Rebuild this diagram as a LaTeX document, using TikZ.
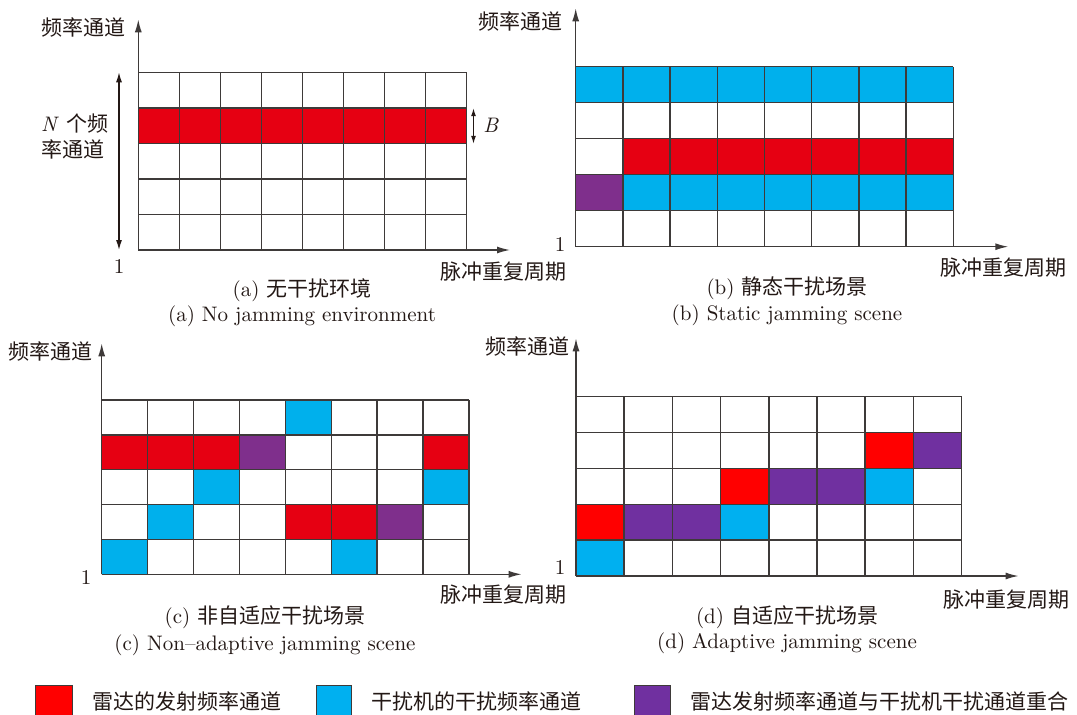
\documentclass[tikz,border=0pt]{standalone}
\usepackage{fontspec}
\setmainfont{lmroman10-regular.otf}[ItalicFont=lmroman10-italic.otf]
\newfontfamily\cjk{Noto Sans CJK SC}
\usetikzlibrary{arrows.meta}

% cell colours: panels (a)-(c) and the brighter set of panel (d) and the key
\definecolor{radar}{HTML}{E60012}
\definecolor{jam}{HTML}{00B0EC}
\definecolor{both}{HTML}{7F2F8C}
\definecolor{radarB}{HTML}{FF0000}
\definecolor{jamB}{HTML}{00B0F0}
\definecolor{bothB}{HTML}{7030A0}
\definecolor{ink}{HTML}{231815}
\definecolor{rule}{HTML}{3E3A39}

\tikzset{
  gridline/.style={draw=rule, line width=1.5pt},
  axis/.style={draw=rule, line width=1.4pt, -{Latex[length=13pt,width=7pt]}},
  span/.style={draw=ink, line width=1.2pt, {Latex[length=10pt,width=6pt]}-{Latex[length=10pt,width=6pt]}},
  zh/.style={font=\cjk\fontsize{21}{25}\selectfont, text=ink, inner sep=0pt},
  en/.style={font=\fontsize{21}{25}\selectfont, text=ink, inner sep=0pt},
  swatch/.style={draw=rule, line width=0.8pt},
}

% 8 x 5 channel grid: #1,#2 top-left corner, #3 cell width, #4 cell height,
% #5 list of filled cells column/row/colour (row 1 is the top row)
\newcommand\panelgrid[5]{%
  \begin{scope}[shift={(#1,#2)}, x=#3pt, y=-#4pt]
    \foreach \c/\r/\k in {#5} \fill[\k] (\c-1,\r-1) rectangle (\c,\r);
    \foreach \i in {0,...,8} \draw[gridline] (\i,0) -- (\i,5);
    \foreach \j in {0,...,5} \draw[gridline] (0,\j) -- (8,\j);
  \end{scope}}

\begin{document}
\begin{tikzpicture}[x=1pt, y=-1pt]
\clip (0,0) rectangle (1077,715);
\fill[white] (0,0) rectangle (1077,715);

% ---------------- (a) no jamming ----------------
\panelgrid{138.3}{72.3}{41.05}{35.54}{1/2/radar,2/2/radar,3/2/radar,4/2/radar,5/2/radar,6/2/radar,7/2/radar,8/2/radar}
\coordinate (a-o) at (138.3,250);
\coordinate (a-yt) at (138.3,19.3);
\coordinate (a-xt) at (510,250);
\draw[axis] (a-o) -- (a-yt);
\draw[axis] (a-o) -- (a-xt);
\node[zh, anchor=east] (a-ylab) at (126,27) {频率通道};
\node[zh, anchor=west] (a-xlab) at (440,272) {脉冲重复周期};
\node[en] (a-one) at (119,267) {1};
\coordinate (a-nt) at (119,72.3);
\coordinate (a-nb) at (119,250);
\draw[span] (a-nt) -- (a-nb);
\node[en, anchor=west] (a-n1) at (41,123.5) {\textit{N} {\cjk 个频}};
\node[zh, anchor=west] (a-n2) at (41,149.5) {率通道};
\coordinate (a-bt) at (473.5,108.2);
\coordinate (a-bb) at (473.5,143.8);
\draw[span, {Latex[length=8pt,width=5pt]}-{Latex[length=8pt,width=5pt]}] (a-bt) -- (a-bb);
\node[en] (a-b) at (491,125) {\textit{B}};
\node[en] (a-cap1) at (302,290) {(a) {\cjk 无干扰环境}};
\node[en] (a-cap2) at (302,316.5) {(a) No jamming environment};

% ---------------- (b) static jamming ----------------
\panelgrid{575.7}{66.7}{47.2}{36}{1/1/jam,2/1/jam,3/1/jam,4/1/jam,5/1/jam,6/1/jam,7/1/jam,8/1/jam,
  2/3/radar,3/3/radar,4/3/radar,5/3/radar,6/3/radar,7/3/radar,8/3/radar,
  1/4/both,2/4/jam,3/4/jam,4/4/jam,5/4/jam,6/4/jam,7/4/jam,8/4/jam}
\coordinate (b-o) at (575.7,246.7);
\coordinate (b-yt) at (575.7,8.3);
\coordinate (b-xt) at (1008.3,246.7);
\draw[axis] (b-o) -- (b-yt);
\draw[axis] (b-o) -- (b-xt);
\node[zh, anchor=east] (b-ylab) at (562.7,21.7) {频率通道};
\node[zh, anchor=west] (b-xlab) at (940,268) {脉冲重复周期};
\node[en] (b-one) at (560,245) {1};
\node[en] (b-cap1) at (787,288) {(b) {\cjk 静态干扰场景}};
\node[en] (b-cap2) at (787,315) {(b) Static jamming scene};

% ---------------- (c) non-adaptive jamming ----------------
\panelgrid{101.7}{400}{45.91}{34.86}{5/1/jam,
  1/2/radar,2/2/radar,3/2/radar,4/2/both,8/2/radar,
  3/3/jam,8/3/jam,
  2/4/jam,5/4/radar,6/4/radar,7/4/both,
  1/5/jam,6/5/jam}
\coordinate (c-o) at (101.7,574.3);
\coordinate (c-yt) at (101.7,343.3);
\coordinate (c-xt) at (521.7,574.3);
\draw[axis] (c-o) -- (c-yt);
\draw[axis] (c-o) -- (c-xt);
\node[zh, anchor=east] (c-ylab) at (93,351.7) {频率通道};
\node[zh, anchor=west] (c-xlab) at (440,595) {脉冲重复周期};
\node[en] (c-one) at (86,578) {1};
\node[en] (c-cap1) at (265,617) {(c) {\cjk 非自适应干扰场景}};
\node[en] (c-cap2) at (265,645) {(c) Non--adaptive jamming scene};

% ---------------- (d) adaptive jamming ----------------
\panelgrid{576}{396.7}{48.2}{35.86}{7/2/radarB,8/2/bothB,
  4/3/radarB,5/3/bothB,6/3/bothB,7/3/jamB,
  1/4/radarB,2/4/bothB,3/4/bothB,4/4/jamB,
  1/5/jamB}
\coordinate (d-o) at (576,576);
\coordinate (d-yt) at (576,338.3);
\coordinate (d-xt) at (1018.6,576);
\draw[axis] (d-o) -- (d-yt);
\draw[axis] (d-o) -- (d-xt);
\node[zh, anchor=east] (d-ylab) at (570,346.7) {频率通道};
\node[zh, anchor=west] (d-xlab) at (943,600) {脉冲重复周期};
\node[en] (d-one) at (560,568) {1};
\node[en] (d-cap1) at (787,617) {(d) {\cjk 自适应干扰场景}};
\node[en] (d-cap2) at (787,643) {(d) Adaptive jamming scene};

% ---------------- key ----------------
\filldraw[swatch, fill=radarB] (35.7,685) rectangle (72,722);
\node[zh, anchor=west] (k-radar) at (92.5,701.5) {雷达的发射频率通道};
\filldraw[swatch, fill=jamB] (316,685) rectangle (351.5,722);
\node[zh, anchor=west] (k-jam) at (371,701.5) {干扰机的干扰频率通道};
\filldraw[swatch, fill=bothB] (634,685) rectangle (670,722);
\node[zh, anchor=west] (k-both) at (690,701.5) {雷达发射频率通道与干扰机干扰通道重合};
\end{tikzpicture}
\end{document}
